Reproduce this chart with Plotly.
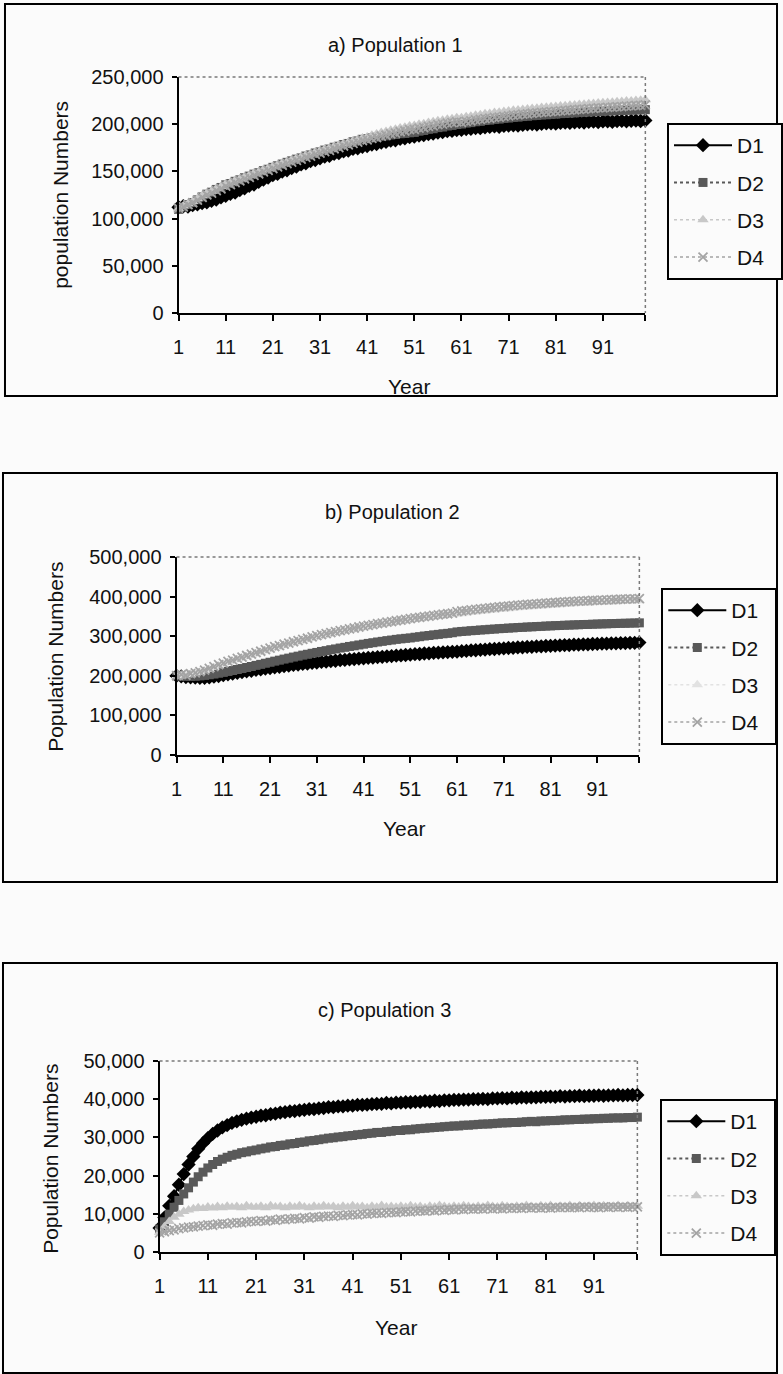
import plotly.graph_objects as go

W, H = 783, 1374
YEARS = list(range(1, 101))
SERIES_NAMES = ["D1", "D2", "D3", "D4"]
X_TICKS = [1, 11, 21, 31, 41, 51, 61, 71, 81, 91, 100]
X_TICK_TEXT = ["1", "11", "21", "31", "41", "51", "61", "71", "81", "91", ""]

# ---- Population 1 (thousands of individuals per year) ----
pop1_d1 = [
    112.0, 113.1, 112.6, 114.2, 115.0, 116.3, 117.1, 118.9, 120.2, 122.4,
    124.1, 126.3, 127.5, 130.2, 132.0, 134.8, 136.1, 139.0, 141.2, 143.5,
    146.0, 147.3, 149.8, 151.2, 153.6, 155.0, 157.4, 158.6, 160.9, 162.1,
    163.8, 165.6, 166.4, 168.5, 169.3, 171.2, 172.0, 173.8, 174.5, 176.1,
    176.9, 178.4, 179.0, 180.6, 181.2, 182.5, 183.0, 184.6, 185.1, 186.3,
    186.8, 187.9, 188.4, 189.6, 190.0, 191.1, 191.5, 192.6, 192.9, 193.8,
    194.1, 194.9, 195.2, 196.0, 195.8, 196.7, 197.1, 197.6, 197.3, 198.2,
    198.5, 198.9, 198.6, 199.4, 199.8, 200.1, 199.7, 200.5, 200.8, 201.0,
    200.6, 201.4, 201.7, 201.3, 202.0, 202.2, 201.8, 202.5, 202.7, 202.3,
    202.9, 203.1, 202.6, 203.3, 203.5, 203.0, 203.6, 203.8, 203.4, 204.0,
]
pop1_d2 = [
    109.8, 112.5, 114.8, 117.0, 119.9, 123.0, 125.9, 128.0, 130.9, 133.0,
    135.8, 137.2, 139.5, 141.1, 143.3, 145.0, 147.1, 148.6, 150.8, 152.3,
    154.3, 156.0, 157.8, 159.6, 161.2, 163.0, 164.3, 166.3, 167.5, 169.5,
    170.7, 172.6, 173.7, 175.6, 176.7, 178.5, 179.6, 181.4, 182.3, 184.0,
    184.6, 185.6, 186.2, 187.2, 187.7, 188.6, 189.1, 189.9, 190.2, 190.9,
    191.3, 192.6, 193.3, 194.6, 195.2, 196.4, 197.0, 198.1, 198.7, 199.7,
    200.2, 201.2, 201.7, 202.6, 203.0, 203.9, 204.3, 205.1, 205.4, 206.2,
    206.5, 207.2, 207.5, 208.1, 208.4, 209.0, 209.2, 209.8, 210.0, 210.5,
    210.7, 211.2, 211.4, 211.9, 212.0, 212.5, 212.6, 213.0, 213.2, 213.5,
    213.6, 214.0, 214.1, 214.4, 214.5, 214.8, 214.9, 215.1, 215.2, 215.4,
]
pop1_d3 = [
    110.5, 113.4, 115.8, 118.1, 120.9, 124.1, 127.0, 129.0, 132.0, 134.0,
    136.9, 138.2, 140.6, 142.1, 144.4, 146.0, 148.2, 149.6, 151.9, 153.3,
    155.4, 157.0, 158.9, 160.6, 162.3, 164.0, 165.4, 167.3, 168.6, 170.5,
    171.8, 173.6, 174.8, 176.7, 177.9, 179.6, 180.8, 182.6, 183.8, 185.4,
    186.5, 188.4, 189.5, 191.3, 192.2, 193.6, 194.6, 196.0, 196.8, 198.1,
    198.5, 199.9, 200.6, 201.9, 202.5, 203.7, 204.2, 205.3, 205.8, 206.8,
    206.9, 208.0, 208.5, 209.5, 210.0, 211.0, 211.4, 212.3, 212.7, 213.5,
    213.9, 214.7, 215.0, 215.7, 216.0, 216.7, 217.0, 217.6, 217.9, 218.5,
    218.8, 219.4, 219.6, 220.2, 220.4, 221.0, 221.2, 221.7, 221.9, 222.4,
    222.6, 223.1, 223.3, 223.8, 224.0, 224.5, 224.6, 225.1, 225.3, 225.8,
]
pop1_d4 = [
    111.0, 112.5, 114.9, 116.8, 119.5, 122.5, 125.1, 127.0, 129.7, 131.6,
    134.5, 136.0, 138.2, 139.9, 142.0, 143.7, 145.7, 147.4, 149.5, 151.1,
    153.0, 154.8, 156.5, 158.3, 159.9, 161.7, 163.1, 164.9, 166.2, 168.0,
    169.3, 171.0, 172.3, 174.0, 175.2, 176.9, 178.1, 179.7, 180.9, 182.5,
    183.3, 184.9, 185.9, 187.4, 188.3, 189.8, 190.6, 192.0, 192.8, 194.2,
    194.5, 195.8, 196.5, 197.7, 198.3, 199.5, 200.1, 201.1, 201.7, 202.5,
    202.0, 203.0, 203.5, 204.5, 205.0, 205.9, 206.3, 207.2, 207.6, 208.4,
    208.8, 209.6, 209.9, 210.6, 210.9, 211.6, 211.9, 212.5, 212.8, 213.4,
    213.7, 214.2, 214.5, 215.0, 215.3, 215.8, 216.0, 216.5, 216.7, 217.2,
    217.4, 217.9, 218.1, 218.5, 218.7, 219.2, 219.3, 219.8, 220.0, 220.4,
]

# ---- Population 2 (thousands) ----
pop2_d1 = [
    200.0, 198.5, 197.0, 196.2, 195.4, 195.0, 194.8, 196.0, 197.8, 199.5,
    201.5, 203.8, 205.4, 207.7, 209.2, 211.5, 212.8, 215.0, 216.2, 218.3,
    219.5, 221.6, 222.6, 224.6, 225.5, 227.4, 228.3, 230.1, 230.9, 232.6,
    233.4, 235.0, 235.7, 237.3, 238.0, 239.5, 240.1, 241.6, 242.2, 243.6,
    244.2, 245.5, 246.1, 247.4, 247.9, 249.2, 249.7, 250.9, 251.4, 252.5,
    253.3, 254.5, 255.1, 256.3, 256.8, 257.9, 258.4, 259.4, 259.8, 260.6,
    261.0, 262.3, 262.8, 264.0, 264.5, 265.7, 266.1, 267.3, 267.7, 268.8,
    269.2, 270.2, 270.6, 271.6, 271.9, 272.9, 273.2, 274.1, 274.4, 275.3,
    275.6, 276.4, 276.7, 277.5, 277.7, 278.5, 278.7, 279.4, 279.6, 280.3,
    280.5, 281.1, 281.3, 281.9, 282.0, 282.6, 282.7, 283.2, 283.3, 283.8,
]
pop2_d2 = [
    200.0, 199.4, 198.9, 198.7, 199.0, 199.8, 201.0, 202.6, 204.4, 206.5,
    208.6, 211.0, 213.3, 215.9, 218.3, 221.0, 223.5, 226.3, 228.9, 231.7,
    234.2, 237.0, 239.5, 242.2, 244.6, 247.3, 249.6, 252.2, 254.4, 256.9,
    259.0, 261.5, 263.5, 265.9, 267.8, 270.1, 271.9, 274.1, 275.8, 277.9,
    279.8, 281.8, 283.5, 285.4, 287.0, 288.8, 290.3, 292.0, 293.3, 294.6,
    295.6, 297.4, 298.8, 300.5, 301.8, 303.4, 304.6, 306.1, 307.2, 308.7,
    310.8, 312.0, 312.7, 313.9, 314.6, 315.7, 316.3, 317.4, 318.0, 319.0,
    319.6, 320.5, 321.0, 321.9, 322.4, 323.2, 323.6, 324.4, 324.8, 325.6,
    326.0, 326.7, 327.0, 327.7, 328.0, 328.6, 328.9, 329.5, 329.7, 330.3,
    330.6, 331.1, 331.3, 331.8, 332.0, 332.5, 332.6, 333.1, 333.2, 333.7,
]
pop2_d3 = [
    199.0, 201.2, 203.5, 202.8, 206.9, 209.0, 212.6, 216.8, 221.0, 225.3,
    229.1, 233.3, 236.8, 240.6, 244.2, 247.9, 251.5, 255.1, 258.6, 262.4,
    265.8, 269.4, 272.4, 275.9, 278.9, 282.1, 285.0, 288.1, 290.9, 294.0,
    297.0, 299.8, 302.2, 304.9, 307.2, 309.8, 312.0, 314.5, 316.6, 319.0,
    321.2, 323.4, 325.3, 327.4, 329.2, 331.2, 332.9, 334.9, 336.5, 338.4,
    340.1, 341.9, 343.4, 345.1, 346.5, 348.2, 349.6, 351.2, 352.5, 354.1,
    355.5, 357.0, 358.3, 359.8, 361.0, 362.4, 363.5, 364.8, 365.9, 367.2,
    368.3, 369.5, 370.4, 371.6, 372.5, 373.6, 374.4, 375.4, 376.1, 377.1,
    377.9, 378.8, 379.4, 380.3, 380.9, 381.7, 382.3, 383.0, 383.5, 384.2,
    384.8, 385.4, 385.9, 386.5, 387.0, 387.6, 388.0, 388.6, 389.0, 389.5,
]
pop2_d4 = [
    200.5, 202.9, 201.4, 205.6, 207.3, 210.8, 214.2, 219.0, 223.1, 228.0,
    232.0, 236.2, 239.7, 243.8, 247.2, 251.3, 254.6, 258.7, 262.0, 266.1,
    269.9, 273.4, 276.3, 279.8, 282.6, 286.0, 288.8, 292.1, 294.8, 298.2,
    301.5, 304.2, 306.4, 309.1, 311.3, 313.9, 316.0, 318.6, 320.7, 323.2,
    325.5, 327.6, 329.3, 331.5, 333.2, 335.3, 336.9, 339.0, 340.6, 342.6,
    344.4, 346.2, 347.6, 349.4, 350.7, 352.5, 353.8, 355.5, 356.7, 358.4,
    362.0, 363.6, 364.8, 366.4, 367.5, 369.0, 370.1, 371.5, 372.5, 373.9,
    375.0, 376.2, 377.0, 378.2, 379.0, 380.1, 380.9, 381.9, 382.6, 383.6,
    384.3, 385.1, 385.7, 386.6, 387.1, 387.9, 388.4, 389.1, 389.5, 390.3,
    390.7, 391.3, 391.7, 392.4, 392.7, 393.3, 393.6, 394.2, 394.4, 395.0,
]

# ---- Population 3 (thousands) ----
pop3_d1 = [
    6.3, 9.0, 12.1, 14.6, 17.6, 20.4, 22.9, 25.0, 27.0, 28.5,
    29.8, 30.9, 31.8, 32.6, 33.2, 33.8, 34.2, 34.6, 34.9, 35.2,
    35.4, 35.7, 35.8, 36.1, 36.2, 36.5, 36.6, 36.8, 36.9, 37.1,
    37.2, 37.4, 37.4, 37.6, 37.7, 37.9, 37.9, 38.1, 38.1, 38.3,
    38.3, 38.5, 38.5, 38.6, 38.7, 38.8, 38.8, 39.0, 38.9, 39.1,
    39.1, 39.2, 39.2, 39.3, 39.3, 39.5, 39.4, 39.6, 39.5, 39.7,
    39.7, 39.8, 39.8, 39.9, 39.9, 40.0, 40.0, 40.1, 40.0, 40.2,
    40.2, 40.3, 40.2, 40.4, 40.3, 40.5, 40.4, 40.5, 40.5, 40.6,
    40.6, 40.7, 40.6, 40.8, 40.7, 40.8, 40.8, 40.9, 40.8, 40.9,
    40.9, 41.0, 40.9, 41.0, 41.0, 41.1, 41.0, 41.1, 41.1, 41.1,
]
pop3_d2 = [
    6.0, 7.9, 9.9, 11.7, 13.5, 15.2, 16.8, 18.3, 19.7, 20.9,
    22.0, 22.9, 23.7, 24.3, 24.8, 25.3, 25.6, 26.0, 26.2, 26.5,
    26.7, 27.0, 27.2, 27.5, 27.6, 27.9, 28.0, 28.3, 28.4, 28.7,
    28.8, 29.1, 29.2, 29.4, 29.6, 29.8, 29.9, 30.1, 30.2, 30.4,
    30.5, 30.7, 30.8, 31.0, 31.1, 31.3, 31.3, 31.5, 31.6, 31.8,
    31.8, 32.0, 32.0, 32.2, 32.3, 32.4, 32.5, 32.6, 32.7, 32.8,
    32.9, 33.0, 33.0, 33.2, 33.2, 33.3, 33.4, 33.5, 33.5, 33.6,
    33.7, 33.8, 33.8, 33.9, 33.9, 34.0, 34.1, 34.2, 34.1, 34.3,
    34.3, 34.4, 34.4, 34.5, 34.6, 34.6, 34.7, 34.7, 34.8, 34.8,
    34.9, 34.9, 35.0, 35.0, 35.1, 35.1, 35.1, 35.2, 35.2, 35.3,
]
pop3_d3 = [
    5.2, 6.6, 8.0, 9.1, 9.9, 10.6, 11.0, 11.3, 11.6, 11.4,
    11.8, 11.5, 11.9, 11.6, 12.0, 11.7, 11.9, 11.6, 12.1, 11.8,
    11.7, 12.0, 11.6, 12.1, 11.8, 11.9, 11.6, 12.0, 11.7, 12.1,
    11.8, 11.6, 12.0, 11.7, 12.1, 11.8, 11.9, 11.6, 12.0, 11.7,
    12.1, 11.8, 11.9, 11.6, 12.0, 11.7, 12.2, 11.8, 11.9, 11.7,
    12.0, 11.7, 12.1, 11.8, 11.9, 11.6, 12.0, 11.8, 12.2, 11.9,
    11.7, 12.0, 11.8, 12.1, 11.9, 11.7, 12.0, 11.8, 12.2, 11.9,
    11.8, 12.1, 11.9, 11.7, 12.0, 11.8, 12.2, 11.9, 11.8, 12.1,
    11.9, 12.2, 11.8, 12.0, 11.9, 12.2, 11.8, 12.1, 11.9, 12.0,
    12.2, 11.9, 12.1, 11.8, 12.0, 12.2, 11.9, 12.1, 11.9, 12.0,
]
pop3_d4 = [
    5.0, 5.3, 5.6, 5.8, 6.1, 6.3, 6.5, 6.6, 6.8, 6.9,
    7.1, 7.0, 7.3, 7.4, 7.3, 7.6, 7.7, 7.6, 7.9, 8.0,
    8.0, 8.2, 8.1, 8.4, 8.3, 8.6, 8.5, 8.7, 8.8, 8.7,
    9.0, 8.9, 9.2, 9.1, 9.3, 9.4, 9.3, 9.6, 9.5, 9.7,
    9.8, 9.7, 10.0, 9.9, 10.1, 10.2, 10.1, 10.3, 10.4, 10.3,
    10.5, 10.6, 10.5, 10.7, 10.8, 10.7, 10.9, 10.8, 11.0, 10.9,
    11.1, 11.0, 11.2, 11.1, 11.3, 11.2, 11.3, 11.2, 11.4, 11.3,
    11.4, 11.3, 11.5, 11.4, 11.5, 11.4, 11.6, 11.5, 11.6, 11.5,
    11.6, 11.5, 11.7, 11.6, 11.7, 11.6, 11.7, 11.6, 11.8, 11.7,
    11.7, 11.6, 11.8, 11.7, 11.8, 11.7, 11.8, 11.7, 11.8, 11.8,
]

FONT = "Liberation Sans, Arial, sans-serif"
BG = "#fbfbfb"
INK = "#111111"

# marker / line style of each scenario
STYLES = {
    "D1": dict(color="#000000", symbol="diamond", size=11, dash="solid", width=2.0),
    "D2": dict(color="#595959", symbol="square", size=9, dash="dot", width=2.0),
    "D3": dict(color="#c8c8c8", symbol="triangle-up", size=10, dash="dot", width=1.5),
    "D4": dict(color="#a4a4a4", symbol="x-thin", size=9, dash="dot", width=1.5),
}


def fx(px):
    return px / W


def fy(py):
    return 1 - py / H


panels = [
    dict(title="a) Population 1", ytitle="population Numbers",
         series=[pop1_d1, pop1_d2, pop1_d3, pop1_d4], ymax=250000, dtick=50000,
         plot=(179, 647, 77, 313), frame=(5, 779, 4, 396),
         title_xy=(397, 45), ytitle_xy=(60, 195), xtitle_xy=(410, 387),
         legend_xy=(669, 123), colors={}),
    dict(title="b) Population 2", ytitle="Population Numbers",
         series=[pop2_d1, pop2_d2, pop2_d3, pop2_d4], ymax=500000, dtick=100000,
         plot=(177, 641, 557, 755), frame=(3, 779, 473, 882),
         title_xy=(394, 512), ytitle_xy=(55, 657), xtitle_xy=(405, 828),
         legend_xy=(663, 588), colors={"D3": "#e2e2e2"}),
    dict(title="c) Population 3", ytitle="Population Numbers",
         series=[pop3_d1, pop3_d2, pop3_d3, pop3_d4], ymax=50000, dtick=10000,
         plot=(160, 639, 1061, 1252), frame=(3, 779, 963, 1373),
         title_xy=(385, 1010), ytitle_xy=(50, 1159), xtitle_xy=(397, 1327),
         legend_xy=(662, 1099), colors={}),
]

fig = go.Figure()
layout = dict(
    width=W, height=H, margin=dict(l=0, r=0, t=0, b=0),
    paper_bgcolor=BG, plot_bgcolor=BG,
    font=dict(family=FONT, size=20, color=INK),
    showlegend=True, template="none",
)
shapes, annotations = [], []

for i, p in enumerate(panels):
    k = "" if i == 0 else str(i + 1)
    legend_id = "legend" + k
    x0, x1, y0, y1 = p["plot"]

    for name, values in zip(SERIES_NAMES, p["series"]):
        st = STYLES[name]
        color = p["colors"].get(name, st["color"])
        marker = dict(symbol=st["symbol"], size=st["size"], color=color)
        if st["symbol"] == "x-thin":
            marker["line"] = dict(width=1.8, color=color)
        fig.add_trace(go.Scatter(
            x=YEARS, y=[v * 1000 for v in values],
            name=name + "\u00a0\u00a0",
            mode="lines+markers", xaxis="x" + k, yaxis="y" + k,
            line=dict(color=color, width=st["width"], dash=st["dash"]),
            marker=marker, cliponaxis=False,
            legend=legend_id, legendgroup=f"{i}-{name}",
        ))

    layout["xaxis" + k] = dict(
        domain=[fx(x0), fx(x1)], range=[1, 100], anchor="y" + k,
        tickmode="array", tickvals=X_TICKS, ticktext=X_TICK_TEXT,
        showline=True, linecolor="black", linewidth=2,
        ticks="outside", ticklen=6, tickwidth=1.5, tickcolor="black",
        ticklabelstandoff=9, tickfont=dict(size=20, color=INK),
        showgrid=False, zeroline=False, automargin=False,
    )
    layout["yaxis" + k] = dict(
        domain=[fy(y1), fy(y0)], range=[0, p["ymax"]], anchor="x" + k,
        dtick=p["dtick"], tickformat=",",
        showline=True, linecolor="black", linewidth=2,
        ticks="outside", ticklen=5, tickwidth=1.5, tickcolor="black",
        ticklabelstandoff=4, tickfont=dict(size=20, color=INK),
        showgrid=False, zeroline=False, automargin=False,
    )
    lx, ly = p["legend_xy"]
    layout[legend_id] = dict(
        x=fx(lx), y=fy(ly), xanchor="left", yanchor="top",
        bgcolor=BG, bordercolor="black", borderwidth=2,
        font=dict(size=21, color=INK), tracegroupgap=7,
        itemwidth=58, traceorder="grouped",
    )

    # dotted border along the top and right of the plotting area
    shapes.append(dict(type="line", xref="paper", yref="paper",
                       x0=fx(x0), x1=fx(x1), y0=fy(y0), y1=fy(y0),
                       line=dict(color="#7a7a7a", width=1.5, dash="dot")))
    shapes.append(dict(type="line", xref="paper", yref="paper",
                       x0=fx(x1), x1=fx(x1), y0=fy(y0), y1=fy(y1),
                       line=dict(color="#7a7a7a", width=1.5, dash="dot")))
    # frame around the whole chart
    fa, fb, fc, fd = p["frame"]
    shapes.append(dict(type="rect", xref="paper", yref="paper",
                       x0=fx(fa), x1=fx(fb), y0=fy(fd), y1=fy(fc),
                       line=dict(color="black", width=2)))

    common = dict(xref="paper", yref="paper", showarrow=False,
                  xanchor="center", yanchor="middle")
    tx, ty = p["title_xy"]
    annotations.append(dict(text=p["title"], x=fx(tx), y=fy(ty),
                            font=dict(size=20, color=INK), **common))
    ax_, ay_ = p["ytitle_xy"]
    annotations.append(dict(text=p["ytitle"], x=fx(ax_), y=fy(ay_),
                            textangle=-90, font=dict(size=21, color=INK),
                            **common))
    bx, by = p["xtitle_xy"]
    annotations.append(dict(text="Year", x=fx(bx), y=fy(by),
                            font=dict(size=21, color=INK), **common))

layout["shapes"] = shapes
layout["annotations"] = annotations
fig.update_layout(**layout)
fig.write_html("out.html")
